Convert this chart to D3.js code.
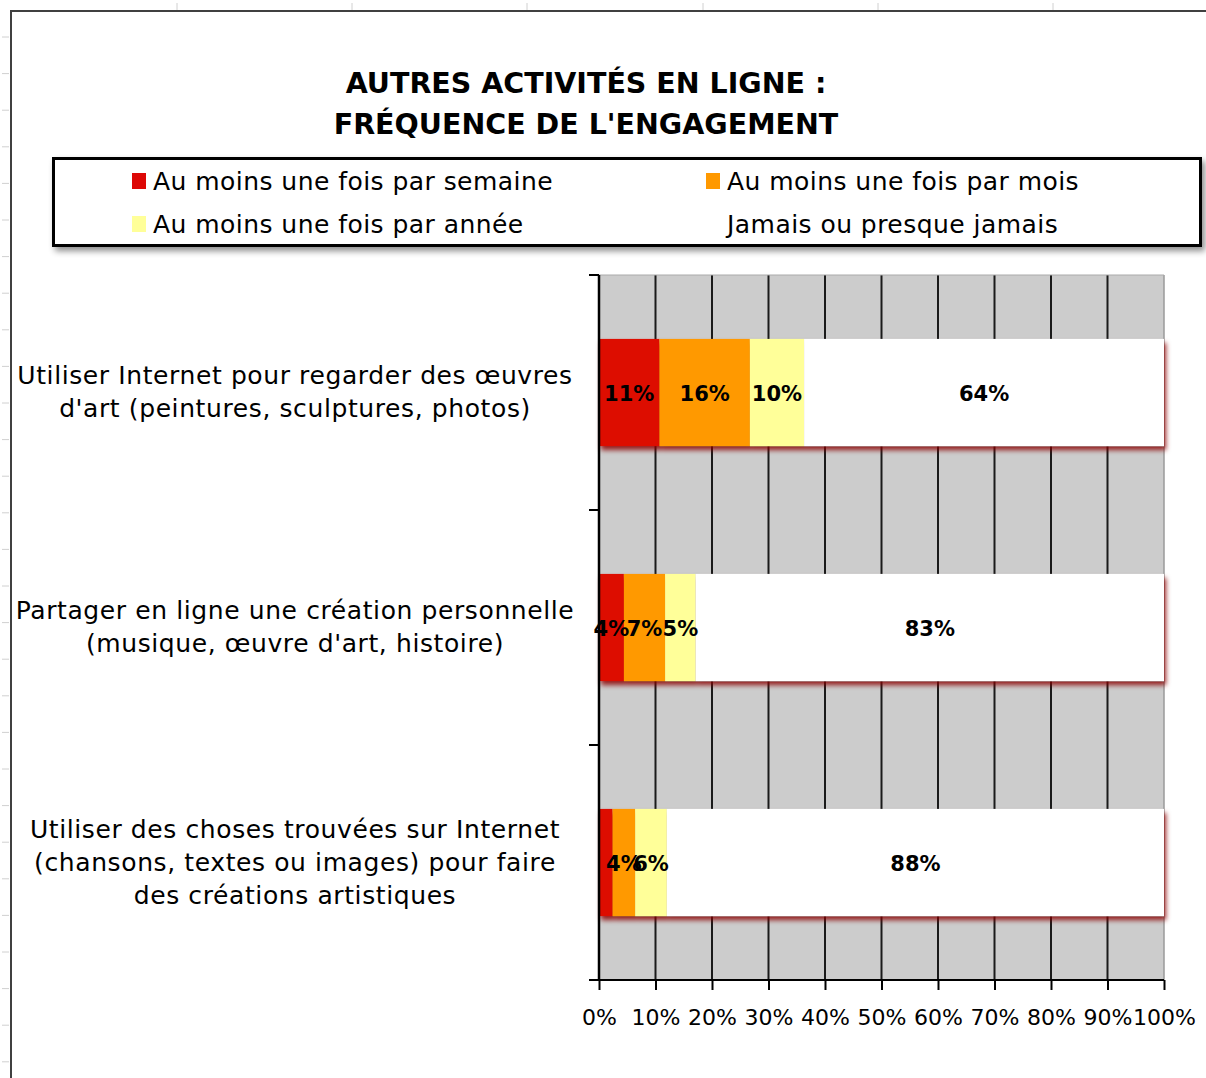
<!DOCTYPE html>
<html>
<head>
<meta charset="utf-8">
<script src="https://cdn.jsdelivr.net/npm/d3@7"></script>
<style>
  html, body { margin: 0; padding: 0; background: #ffffff; }
  svg { display: block; }
  text { font-family: "DejaVu Sans", Verdana, sans-serif; fill: #000; }
</style>
</head>
<body>
<svg id="chart" width="1206" height="1078"></svg>
<script>
// ---------- DATA ----------
const titleLines = ["AUTRES ACTIVITÉS EN LIGNE :", "FRÉQUENCE DE L'ENGAGEMENT"];
const categories = [
  "Utiliser Internet pour regarder des œuvres|d'art (peintures, sculptures, photos)",
  "Partager en ligne une création personnelle|(musique, œuvre d'art, histoire)",
  "Utiliser des choses trouvées sur Internet|(chansons, textes ou images) pour faire|des créations artistiques"
];
const seriesNames = [
  "Au moins une fois par semaine",
  "Au moins une fois par mois",
  "Au moins une fois par année",
  "Jamais ou presque jamais"
];
const seriesKeys = ["semaine", "mois", "annee", "jamais"];
const semaine = [10.7, 4.4, 2.4];
const mois    = [16.0, 7.3, 4.0];
const annee   = [9.6, 5.4, 5.6];
const jamais  = [63.7, 82.9, 88.0];
// data labels that are not shown in the original: [categoryIndex, seriesKey]
const hiddenLabels = [[2, "semaine"]];
const xTickValues = [0, 10, 20, 30, 40, 50, 60, 70, 80, 90, 100];
const seriesColors = ["#dd0806", "#ff9900", "#ffff99", "#ffffff"];

// ---------- BUILD ----------
const rows = categories.map((c, i) => ({
  cat: c, semaine: semaine[i], mois: mois[i], annee: annee[i], jamais: jamais[i]
}));
const stack = d3.stack().keys(seriesKeys).offset(d3.stackOffsetExpand);
const series = stack(rows);

const svg = d3.select("#chart");
const defs = svg.append("defs");
const f1 = defs.append("filter").attr("id", "barShadow")
  .attr("x", "-5%").attr("y", "-20%").attr("width", "115%").attr("height", "150%");
f1.append("feDropShadow").attr("dx", 2).attr("dy", 4).attr("stdDeviation", 2.5)
  .attr("flood-color", "#8b0000").attr("flood-opacity", 0.85);
const f2 = defs.append("filter").attr("id", "legShadow")
  .attr("x", "-5%").attr("y", "-20%").attr("width", "115%").attr("height", "150%");
f2.append("feDropShadow").attr("dx", 3).attr("dy", 4).attr("stdDeviation", 3)
  .attr("flood-color", "#000").attr("flood-opacity", 0.45);

// spreadsheet background marks
const sheet = svg.append("g");
[177, 352, 527, 703, 878, 1053].forEach(x => {
  sheet.append("line").attr("x1", x).attr("x2", x).attr("y1", 3).attr("y2", 10)
    .attr("stroke", "#d0d0d0").attr("stroke-width", 1);
});
d3.range(37, 1078, 36.6).forEach(y => {
  sheet.append("line").attr("x1", 2).attr("x2", 9).attr("y1", y).attr("y2", y)
    .attr("stroke", "#d0d0d0").attr("stroke-width", 1);
});
// chart frame
svg.append("path").attr("d", "M11,1078 V11 H1206")
  .attr("fill", "none").attr("stroke", "#404040").attr("stroke-width", 2);

// title
const title = svg.append("text").attr("text-anchor", "middle")
  .attr("font-weight", "bold").attr("font-size", 28.5);
titleLines.forEach((t, i) => {
  title.append("tspan").attr("x", 586).attr("y", 93 + i * 41).text(t);
});

// legend
const leg = svg.append("g");
leg.append("rect").attr("x", 53.5).attr("y", 158.5).attr("width", 1147).attr("height", 87)
  .attr("fill", "#fff").attr("stroke", "#000").attr("stroke-width", 3)
  .attr("filter", "url(#legShadow)");
const legPos = [[132, 190], [706, 190], [132, 233], [706, 233]];
seriesNames.forEach((name, i) => {
  const [lx, ly] = legPos[i];
  leg.append("rect").attr("x", lx).attr("y", ly - 17).attr("width", 14).attr("height", 16)
    .attr("fill", seriesColors[i]);
  leg.append("text").attr("x", lx + 21).attr("y", ly).attr("font-size", 25)
    .attr("letter-spacing", 0.45).text(name);
});

// scales
const plot = { left: 599, right: 1164, top: 275, bottom: 980 };
const x = d3.scaleLinear().domain([0, 100]).range([plot.left, plot.right]);
const y = d3.scaleBand().domain(categories).range([plot.top, plot.bottom])
  .paddingInner(0.544).paddingOuter(0.272);

// plot area background
svg.append("rect").attr("x", plot.left).attr("y", plot.top)
  .attr("width", plot.right - plot.left).attr("height", plot.bottom - plot.top)
  .attr("fill", "#cccccc");
// gridlines
svg.append("g").selectAll("line").data(xTickValues.slice(1, -1)).join("line")
  .attr("x1", d => x(d)).attr("x2", d => x(d))
  .attr("y1", plot.top).attr("y2", plot.bottom)
  .attr("stroke", "#1a1a1a").attr("stroke-width", 2);
svg.append("line").attr("x1", plot.right).attr("x2", plot.right)
  .attr("y1", plot.top).attr("y2", plot.bottom).attr("stroke", "#9a9a9a").attr("stroke-width", 1.5);
svg.append("line").attr("x1", plot.left - 10).attr("x2", plot.right)
  .attr("y1", plot.top).attr("y2", plot.top).attr("stroke", "#aaaaaa").attr("stroke-width", 1);

// bars
const rowG = svg.append("g").selectAll("g.row").data(rows).join("g")
  .attr("class", "row").attr("filter", "url(#barShadow)");
rowG.selectAll("rect").data((d, i) => series.map((s, k) => ({ seg: s[i], k })))
  .join("rect")
  .attr("x", d => x(d.seg[0] * 100))
  .attr("width", d => x(d.seg[1] * 100) - x(d.seg[0] * 100))
  .attr("y", d => y(d.seg.data.cat))
  .attr("height", y.bandwidth())
  .attr("fill", d => seriesColors[d.k]);

// data labels
const labG = svg.append("g");
series.forEach((s, k) => {
  s.forEach((seg, i) => {
    const key = seriesKeys[k];
    if (hiddenLabels.some(h => h[0] === i && h[1] === key)) return;
    const v = seg.data[key];
    labG.append("text")
      .attr("x", x((seg[0] + seg[1]) / 2 * 100))
      .attr("y", y(seg.data.cat) + y.bandwidth() / 2 + 8)
      .attr("text-anchor", "middle").attr("font-weight", "bold").attr("font-size", 21)
      .text(Math.round(v) + "%");
  });
});

// axes
const xAxis = d3.axisBottom(x).tickValues(xTickValues).tickFormat(d => d + "%")
  .tickSize(10).tickSizeOuter(0);
const gx = svg.append("g").attr("transform", `translate(0,${plot.bottom})`).call(xAxis);
gx.select(".domain").remove();
gx.selectAll(".tick line").attr("stroke", "#000").attr("stroke-width", 2);
gx.selectAll(".tick text").attr("font-size", 22).attr("font-family", "DejaVu Sans, sans-serif")
  .attr("fill", "#000").attr("dy", "1.45em");
svg.append("line").attr("x1", plot.left - 10).attr("x2", plot.right)
  .attr("y1", plot.bottom).attr("y2", plot.bottom).attr("stroke", "#000").attr("stroke-width", 2);

// y axis line and ticks at band boundaries
svg.append("line").attr("x1", plot.left).attr("x2", plot.left)
  .attr("y1", plot.top).attr("y2", plot.bottom).attr("stroke", "#000").attr("stroke-width", 2.5);
const bounds = categories.map(c => y(c) - y.step() * y.paddingInner() / 2).concat([plot.bottom]);
svg.append("g").selectAll("line").data(bounds).join("line")
  .attr("x1", plot.left - 10).attr("x2", plot.left)
  .attr("y1", d => d).attr("y2", d => d)
  .attr("stroke", "#000").attr("stroke-width", 2);

// category labels
categories.forEach(c => {
  const lines = c.split("|");
  const cy = y(c) + y.bandwidth() / 2;
  const lh = 33;
  const t = svg.append("text").attr("text-anchor", "middle").attr("font-size", 25)
    .attr("letter-spacing", 0.6);
  lines.forEach((ln, j) => {
    t.append("tspan").attr("x", 295)
      .attr("y", cy + (j - (lines.length - 1) / 2) * lh + 8).text(ln);
  });
});
</script>
</body>
</html>
